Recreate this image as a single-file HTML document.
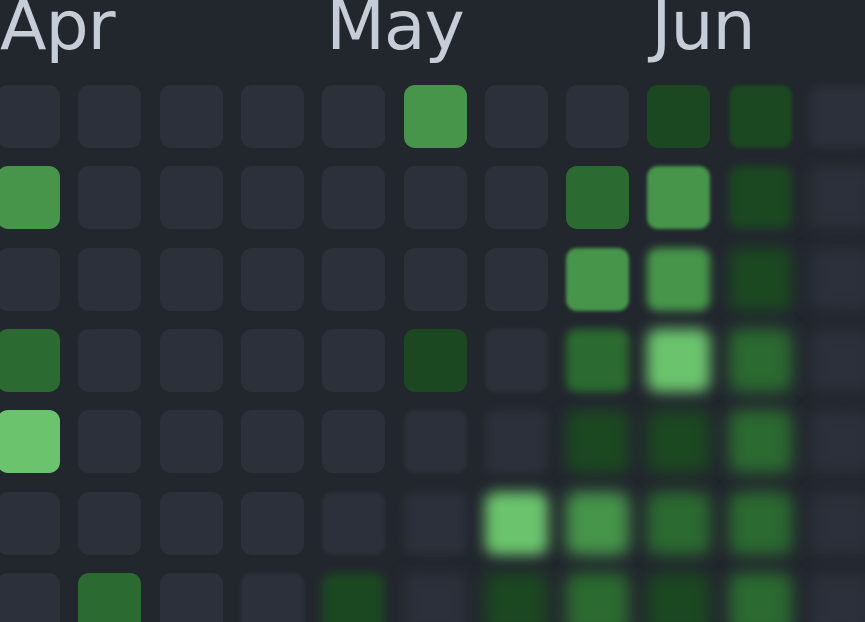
<!DOCTYPE html>
<html><head><meta charset="utf-8">
<style>
html,body{margin:0;padding:0;background:#22272e;width:865px;height:622px;overflow:hidden}
#chart{position:relative;width:865px;height:622px;background:#22272e}
.lbl{position:absolute;top:-7px;font-family:"DejaVu Sans","Liberation Sans",sans-serif;font-size:68px;color:#c5ced8;line-height:1;letter-spacing:-1px}
.cell{position:absolute;width:63px;height:63px;border-radius:11px}
</style></head><body>
<div id="chart"></div>
<script>
const monthLabels = ["Apr","May","Jun"];
const monthStartCols = [0,4,8];
const levels = [
 [0,0,0,0,0,3,0,0,1,1,0],
 [3,0,0,0,0,0,0,2,3,1,0],
 [0,0,0,0,0,0,0,3,3,1,0],
 [2,0,0,0,0,1,0,2,4,2,0],
 [4,0,0,0,0,0,0,1,1,2,0],
 [0,0,0,0,0,0,4,3,2,2,0],
 [0,2,0,0,1,0,1,2,1,2,0]
];
const palette = ["#2b303a","#1b4721","#2b6a30","#46954a","#6bc46d"];
const chart = document.getElementById('chart');
const x0 = -3, y0 = 85, pitch = 81.3;
function xPos(c){return x0 + c*pitch;}
function yPos(r){return y0 + r*pitch;}
monthLabels.forEach((m,i)=>{
  const d=document.createElement('div');
  d.className='lbl';
  
  
  d.style.left=(xPos(monthStartCols[i])+(i===0?3:4))+'px';
  d.textContent=m;
  chart.appendChild(d);
});
levels.forEach((row,r)=>{
  row.forEach((v,c)=>{
    const d=document.createElement('div');
    d.className='cell';
    
    
    const x=xPos(c), y=yPos(r);
    d.style.left=x+'px';
    d.style.top=y+'px';
    d.style.background=palette[v];
    const b=Math.max(0,Math.min(8,(x+y-760)/32));
    if(b>0) d.style.filter='blur('+b.toFixed(1)+'px)';
    chart.appendChild(d);
  });
});
</script>
</body></html>
